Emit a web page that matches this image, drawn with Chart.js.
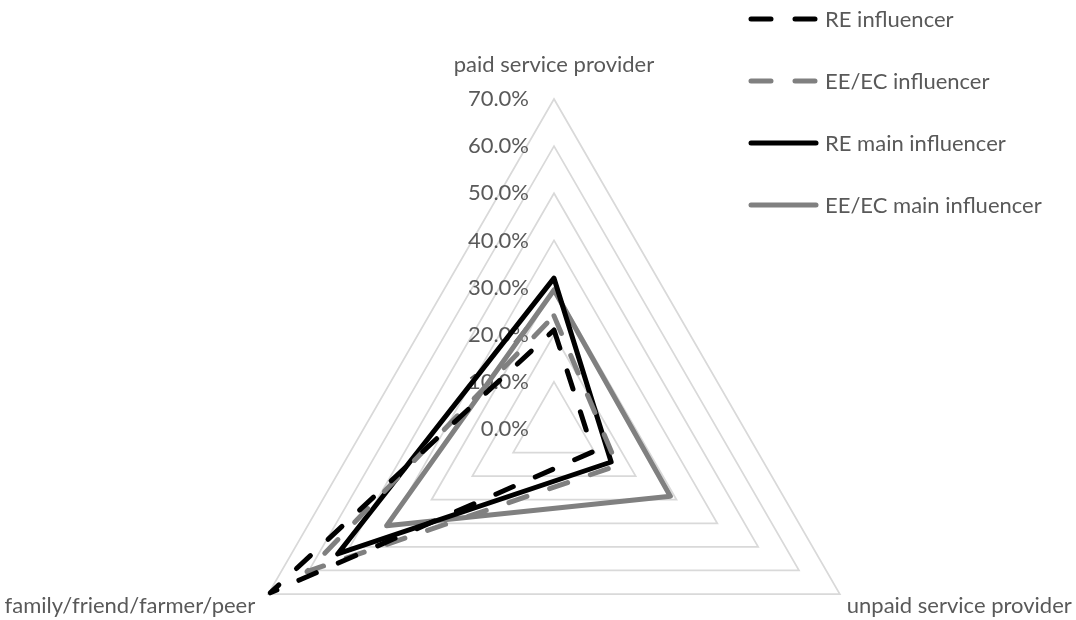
<!DOCTYPE html>
<html>
<head>
<meta charset="utf-8">
<title>Influencers</title>
<script src="https://cdn.jsdelivr.net/npm/chart.js@4.4.1/dist/chart.umd.min.js"></script>
<style>
  html, body { margin: 0; padding: 0; overflow: hidden; background: #fff; }
  /* canvas is taller than the window so the triangle can use the full height */
  #wrap { position: relative; width: 1076px; height: 759px; }
</style>
</head>
<body>
<div id="wrap"><canvas id="radar"></canvas></div>
<script>
const categories = ['paid service provider', 'unpaid service provider', 'family/friend/farmer/peer'];

const reInfluencer = [0.21, 0.096, 0.695];
const eeInfluencer = [0.24, 0.155, 0.605];
const reMainInfluencer = [0.32, 0.14, 0.53];
const eeMainInfluencer = [0.295, 0.285, 0.41];

const tickValues = [0, 0.1, 0.2, 0.3, 0.4, 0.5, 0.6, 0.7];
const tickLabels = ['0.0%', '10.0%', '20.0%', '30.0%', '40.0%', '50.0%', '60.0%', '70.0%'];

const textFont = '22px Lato';
const textColor = '#595959';

// axis values and category names, drawn after the grid so the lines sit on top
const labelsPlugin = {
  id: 'radarLabels',
  beforeDatasetsDraw(chart) {
    const r = chart.scales.r;
    const ctx = chart.ctx;
    ctx.save();
    ctx.font = textFont;
    ctx.fillStyle = textColor;
    ctx.textBaseline = 'middle';

    ctx.textAlign = 'right';
    tickValues.forEach((v, i) => {
      const d = r.getDistanceFromCenterForValue(v);
      ctx.fillText(tickLabels[i], r.xCenter - 25, r.yCenter - d);
    });

    categories.forEach((name, i) => {
      const p = r.getPointPosition(i, r.drawingArea);
      if (Math.abs(p.x - r.xCenter) < 2) {
        ctx.textAlign = 'center';
        ctx.fillText(name, p.x, p.y - 34);
      } else if (p.x > r.xCenter) {
        ctx.textAlign = 'left';
        ctx.fillText(name, p.x + 7, p.y + 12);
      } else {
        ctx.textAlign = 'right';
        ctx.fillText(name, p.x - 13, p.y + 12);
      }
    });
    ctx.restore();
  }
};

// vertical legend in the top right corner
const legendPlugin = {
  id: 'sideLegend',
  afterDraw(chart) {
    const ctx = chart.ctx;
    ctx.save();
    ctx.font = textFont;
    ctx.textBaseline = 'middle';
    ctx.textAlign = 'left';
    chart.data.datasets.forEach((ds, i) => {
      const y = 19 + i * 62;
      ctx.beginPath();
      ctx.strokeStyle = ds.borderColor;
      ctx.lineWidth = ds.borderWidth;
      ctx.lineCap = 'round';
      ctx.setLineDash(ds.borderDash ? [20, 24] : []);
      ctx.moveTo(751, y);
      ctx.lineTo(816, y);
      ctx.stroke();
      ctx.setLineDash([]);
      ctx.fillStyle = textColor;
      ctx.fillText(ds.label, 825, y + 1);
    });
    ctx.restore();
  }
};

const line = {
  fill: false,
  borderWidth: 5,
  pointRadius: 0,
  pointHoverRadius: 0,
  borderCapStyle: 'round',
  borderJoinStyle: 'round'
};

new Chart(document.getElementById('radar'), {
  type: 'radar',
  data: {
    labels: categories,
    datasets: [
      { ...line, label: 'RE influencer', data: reInfluencer, borderColor: '#000000', borderDash: [19, 24] },
      { ...line, label: 'EE/EC influencer', data: eeInfluencer, borderColor: '#808080', borderDash: [19, 24] },
      { ...line, label: 'RE main influencer', data: reMainInfluencer, borderColor: '#000000' },
      { ...line, label: 'EE/EC main influencer', data: eeMainInfluencer, borderColor: '#808080' }
    ]
  },
  options: {
    responsive: true,
    maintainAspectRatio: false,
    animation: false,
    layout: { padding: { left: 32, right: 0, top: 99, bottom: 0 } },
    plugins: {
      legend: { display: false },
      tooltip: { enabled: false }
    },
    scales: {
      r: {
        min: 0,
        max: 0.7,
        ticks: { stepSize: 0.1, display: false },
        grid: { color: '#d9d9d9', lineWidth: 1.75 },
        angleLines: { display: false },
        pointLabels: { display: false }
      }
    }
  },
  plugins: [labelsPlugin, legendPlugin]
});
</script>
</body>
</html>
